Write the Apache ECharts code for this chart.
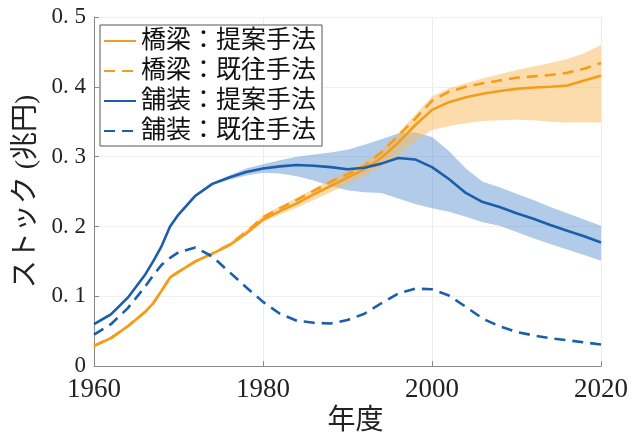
<!DOCTYPE html>
<html>
<head>
<meta charset="utf-8">
<script src="https://cdn.jsdelivr.net/npm/echarts@6/dist/echarts.min.js"></script>
<style>
  html, body { margin: 0; padding: 0; background: #fff; }
  #chart { width: 633px; height: 441px; }
</style>
</head>
<body>
<div id="chart"></div>
<script>
const years = [1960, 1962, 1964, 1966, 1967, 1968, 1969, 1970, 1972, 1974, 1976, 1978, 1980, 1982, 1984, 1986, 1988,
  1990, 1992, 1994, 1996, 1998, 2000, 2002, 2004, 2006, 2008, 2010, 2012, 2014, 2016, 2018, 2020]

// 橋梁 (bridges)
const bridgeProposed = [0.029, 0.040, 0.057, 0.077, 0.090, 0.108, 0.127, 0.135, 0.150, 0.161, 0.173, 0.190, 0.210, 0.222, 0.233, 0.246, 0.258,
  0.270, 0.282, 0.298, 0.320, 0.345, 0.367, 0.378, 0.385, 0.390, 0.394, 0.397, 0.399, 0.400, 0.402, 0.409, 0.416]
const bridgeConventional = [0.029, 0.040, 0.057, 0.077, 0.090, 0.108, 0.127, 0.135, 0.150, 0.161, 0.174, 0.192, 0.213, 0.226, 0.238, 0.251, 0.264,
  0.275, 0.287, 0.306, 0.330, 0.354, 0.380, 0.393, 0.400, 0.405, 0.409, 0.413, 0.415, 0.417, 0.420, 0.426, 0.434]
const bridgeUpper = [0.031, 0.042, 0.059, 0.079, 0.092, 0.110, 0.129, 0.137, 0.152, 0.163, 0.176, 0.195, 0.216, 0.229, 0.241, 0.254, 0.267,
  0.279, 0.292, 0.310, 0.334, 0.360, 0.386, 0.398, 0.405, 0.412, 0.418, 0.424, 0.429, 0.434, 0.440, 0.448, 0.460]
const bridgeLower = [0.027, 0.038, 0.055, 0.075, 0.088, 0.106, 0.125, 0.133, 0.148, 0.159, 0.171, 0.187, 0.206, 0.217, 0.227, 0.238, 0.249,
  0.261, 0.272, 0.286, 0.302, 0.322, 0.338, 0.344, 0.348, 0.351, 0.352, 0.353, 0.352, 0.350, 0.349, 0.349, 0.349]

// 舗装 (pavement)
const paveProposed = [0.060, 0.074, 0.098, 0.130, 0.150, 0.172, 0.200, 0.217, 0.244, 0.261, 0.270, 0.278, 0.283, 0.286, 0.288, 0.287, 0.285,
  0.282, 0.284, 0.290, 0.298, 0.296, 0.285, 0.268, 0.248, 0.235, 0.228, 0.219, 0.211, 0.202, 0.194, 0.186, 0.177]
const paveConventional = [0.045, 0.060, 0.083, 0.113, 0.130, 0.145, 0.155, 0.163, 0.170, 0.157, 0.135, 0.113, 0.092, 0.075, 0.065, 0.062, 0.061,
  0.066, 0.075, 0.090, 0.104, 0.111, 0.110, 0.101, 0.085, 0.068, 0.057, 0.049, 0.044, 0.040, 0.037, 0.034, 0.031]
const paveUpper = [0.062, 0.076, 0.100, 0.132, 0.152, 0.174, 0.202, 0.219, 0.246, 0.263, 0.273, 0.283, 0.289, 0.295, 0.300, 0.303, 0.306,
  0.310, 0.317, 0.325, 0.333, 0.335, 0.328, 0.308, 0.283, 0.264, 0.256, 0.247, 0.238, 0.228, 0.219, 0.210, 0.201]
const paveLower = [0.058, 0.072, 0.096, 0.128, 0.148, 0.170, 0.198, 0.215, 0.242, 0.259, 0.267, 0.273, 0.277, 0.276, 0.272, 0.266, 0.258,
  0.252, 0.249, 0.248, 0.240, 0.232, 0.226, 0.221, 0.214, 0.206, 0.201, 0.192, 0.183, 0.175, 0.167, 0.159, 0.151]

const names = ['橋梁：提案手法', '橋梁：既往手法', '舗装：提案手法', '舗装：既往手法']
const yTicks = [0, 0.1, 0.2, 0.3, 0.4, 0.5]

const ORANGE = '#f59d1a'
const BLUE = '#1b5eab'
const SERIF = 'Liberation Serif, DejaVu Serif, serif'
const CJK = 'Liberation Serif, Noto Sans CJK JP, sans-serif'

const pairs = vals => years.map((y, i) => [y, vals[i]])

// shaded range between lower and upper, placed with the axes' own coord()
function band(lo, hi, color) {
  return {
    type: 'custom',
    silent: true,
    z: 1,
    data: [[years[0], lo[0]]],
    renderItem: (params, api) => {
      const top = years.map((y, i) => api.coord([y, hi[i]]))
      const bottom = years.map((y, i) => api.coord([y, lo[i]])).reverse()
      return {
        type: 'polygon',
        shape: { points: top.concat(bottom) },
        style: { fill: color }
      }
    }
  }
}

function line(name, vals, color, dashed) {
  return {
    name: name,
    type: 'line',
    data: pairs(vals),
    symbol: 'none',
    lineStyle: { color: color, width: 2.6, type: dashed ? [11, 7] : 'solid' },
    itemStyle: { color: color },
    z: 3
  }
}

const chart = echarts.init(document.getElementById('chart'))

chart.setOption({
  animation: false,
  grid: { left: 94, right: 32, top: 17, bottom: 73 },
  legend: {
    data: names,
    orient: 'vertical',
    left: 100,
    top: 25,
    padding: [3, 6, 2, 3],
    itemGap: 4,
    itemWidth: 32,
    itemHeight: 12,
    itemStyle: { opacity: 0 },
    backgroundColor: '#fff',
    borderColor: '#555',
    borderWidth: 1,
    borderRadius: 0,
    textStyle: { fontFamily: CJK, fontSize: 25, color: '#111', lineHeight: 26 }
  },
  xAxis: {
    type: 'value',
    min: 1960,
    max: 2020,
    interval: 20,
    name: '年度',
    nameLocation: 'middle',
    nameGap: 36,
    nameTextStyle: { fontFamily: CJK, fontSize: 28, color: '#222', padding: [0, 0, 0, 16] },
    axisLine: { lineStyle: { color: '#888' } },
    axisTick: { inside: true, length: 5, lineStyle: { color: '#888' } },
    axisLabel: { fontFamily: SERIF, fontSize: 27, color: '#222', margin: 10, formatter: v => String(v) },
    splitLine: { show: true, lineStyle: { color: '#ececec' } }
  },
  yAxis: {
    type: 'value',
    min: 0,
    max: 0.5,
    interval: 0.1,
    name: 'ストック (兆円)',
    nameLocation: 'middle',
    nameRotate: 90,
    nameGap: 50,
    nameTextStyle: { fontFamily: CJK, fontSize: 28, color: '#222' },
    axisLine: { show: true, lineStyle: { color: '#888' } },
    axisTick: { show: true, inside: true, length: 5, lineStyle: { color: '#888' } },
    axisLabel: {
      fontFamily: SERIF, fontSize: 23, color: '#222', margin: 8,
      formatter: v => {
        const t = yTicks.find(k => Math.abs(k - v) < 1e-9)
        return t === 0 ? '0' : t.toFixed(1).replace('.', '. ')
      }
    },
    splitLine: { show: true, lineStyle: { color: '#f0f0f0' } }
  },
  series: [
    band(paveLower, paveUpper, 'rgba(70,130,200,0.42)'),
    band(bridgeLower, bridgeUpper, 'rgba(250,185,90,0.5)'),
    line(names[1], bridgeConventional, ORANGE, true),
    line(names[0], bridgeProposed, ORANGE, false),
    line(names[3], paveConventional, BLUE, true),
    line(names[2], paveProposed, BLUE, false)
  ]
})
</script>
</body>
</html>
